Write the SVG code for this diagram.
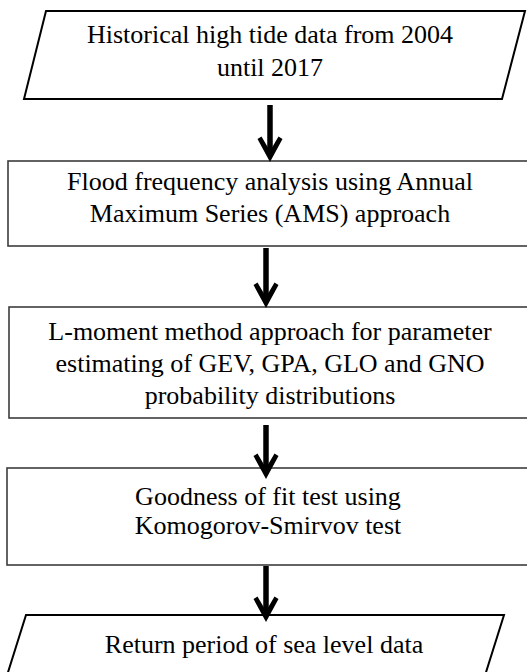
<svg xmlns="http://www.w3.org/2000/svg" xmlns:xlink="http://www.w3.org/1999/xlink" width="527" height="672" viewBox="0 0 527 672">
<style>
.para{fill:#fff;stroke:#000;stroke-width:2}
.box{fill:#fff;stroke:#3c3c3c;stroke-width:1.6}
.t{font-family:'Liberation Serif','Times New Roman','DejaVu Serif',serif;font-size:26px;fill:#000;text-anchor:middle}
.shaft{stroke:#000;stroke-width:5.5;fill:none}
.head{fill:#000}
</style>
<defs>
<path id="ah" d="M0,0 L-12.5,-23 L-8.5,-25.5 L0,-11 L8.5,-25.5 L12.5,-23 Z"/>
</defs>
<rect width="527" height="672" fill="#fff"/>
<g id="n1">
<polygon class="para" points="46,11 525,11 502,99 24,99"/>
<text class="t" x="270" y="43" font-family="Liberation Serif, serif">Historical high tide data from 2004</text>
<text class="t" x="270" y="76" font-family="Liberation Serif, serif">until 2017</text>
</g>
<g id="n2">
<rect class="box" x="8" y="161" width="540" height="85"/>
<text class="t" x="270" y="190">Flood frequency analysis using Annual</text>
<text class="t" x="270" y="222">Maximum Series (AMS) approach</text>
</g>
<g id="n3">
<rect class="box" x="9" y="307" width="540" height="111"/>
<text class="t" x="270" y="340">L-moment method approach for parameter</text>
<text class="t" x="270" y="372">estimating of GEV, GPA, GLO and GNO</text>
<text class="t" x="270" y="404">probability distributions</text>
</g>
<g id="n4">
<rect class="box" x="7" y="468" width="540" height="97"/>
<text class="t" x="268" y="505">Goodness of fit test using</text>
<text class="t" x="268" y="534">Komogorov-Smirvov test</text>
</g>
<g id="n5">
<polygon class="para" points="26,615 504,615 482,685 4,685"/>
<text class="t" x="264" y="653">Return period of sea level data</text>
</g>
<g id="connectors">
<line class="shaft" x1="270" y1="105" x2="270" y2="153"/>
<use class="head" xlink:href="#ah" x="270" y="162"/>
<line class="shaft" x1="266" y1="248" x2="266" y2="299"/>
<use class="head" xlink:href="#ah" x="266" y="308"/>
<line class="shaft" x1="266" y1="425" x2="266" y2="470"/>
<use class="head" xlink:href="#ah" x="266" y="479"/>
<line class="shaft" x1="266" y1="566" x2="266" y2="613"/>
<use class="head" xlink:href="#ah" x="266" y="622"/>
</g>
</svg>
